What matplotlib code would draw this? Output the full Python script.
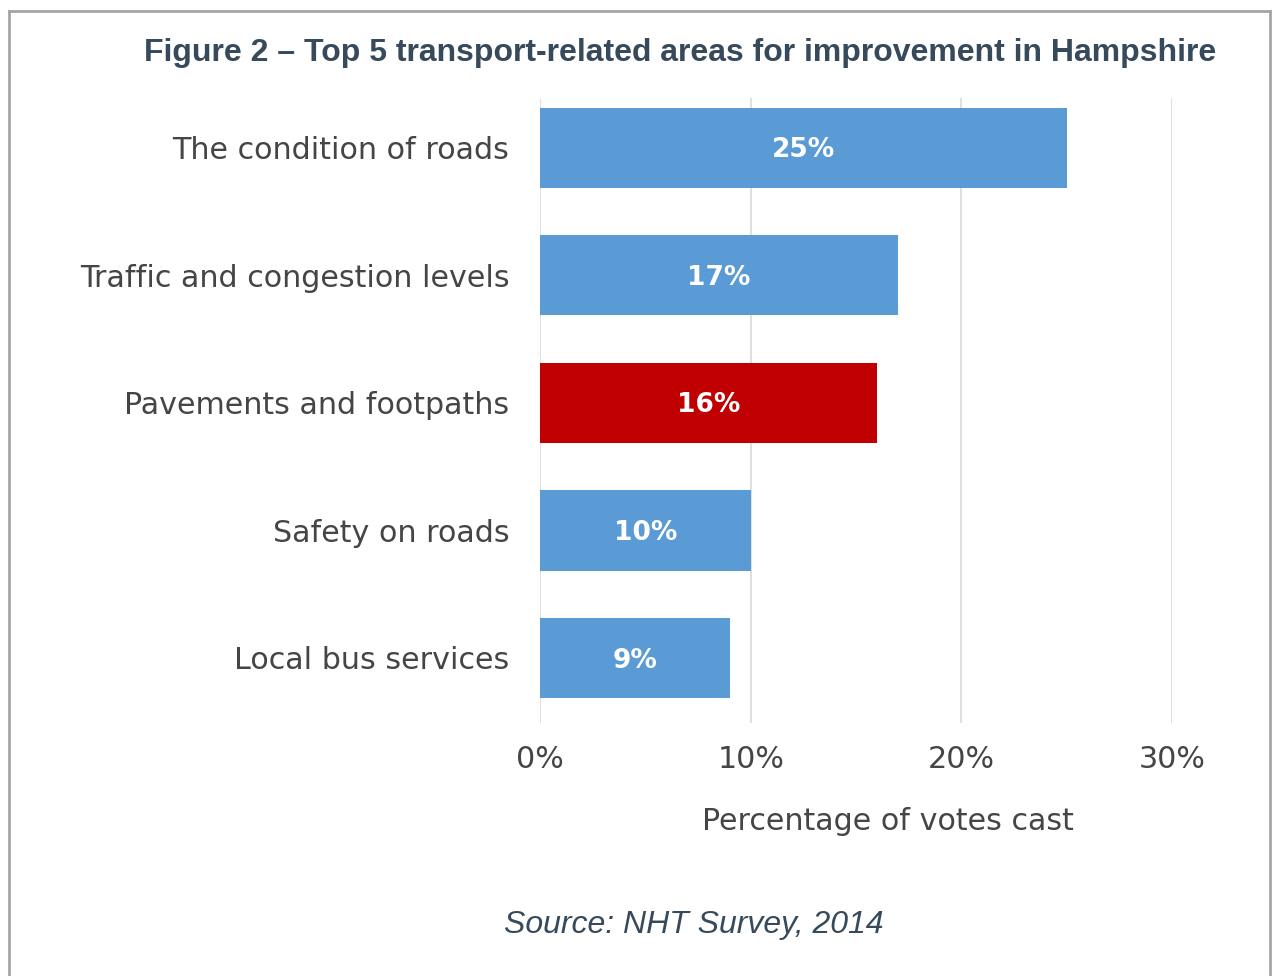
import matplotlib
matplotlib.use("Agg")
import matplotlib.pyplot as plt
from matplotlib.lines import Line2D
from matplotlib.ticker import FuncFormatter

categories = [
    "The condition of roads",
    "Traffic and congestion levels",
    "Pavements and footpaths",
    "Safety on roads",
    "Local bus services",
]
values = [25, 17, 16, 10, 9]
highlight = "Pavements and footpaths"
xticks = [0, 10, 20, 30]

title = "Figure 2 \u2013 Top 5 transport-related areas for improvement in Hampshire"
xlabel = "Percentage of votes cast"
source = "Source: NHT Survey, 2014"

BLUE = "#5B9BD5"
RED = "#C00000"
SLATE = "#374A5C"
TEXT = "#454545"

plt.rcParams["font.family"] = ["DejaVu Sans"]
HEAD = ["Liberation Sans", "DejaVu Sans"]

W, H = 1273, 976
fig = plt.figure(figsize=(W / 100, H / 100), dpi=100)

ax = fig.add_axes([540 / W, 1 - 723 / H, (1172 - 540) / W, (723 - 98) / H])

colors = [RED if c == highlight else BLUE for c in categories]
ypos = list(range(len(categories)))
bars = ax.barh(ypos, values, height=0.63, color=colors, zorder=3)

for b, v in zip(bars, values):
    ax.text(b.get_width() / 2, b.get_y() + b.get_height() / 2 + 0.02, f"{v}%",
            ha="center", va="center", color="white", fontsize=19,
            fontweight="bold", zorder=4)

ax.set_xlim(0, 30)
ax.set_ylim(4.51, -0.39)
ax.set_xticks(xticks)
ax.xaxis.set_major_formatter(FuncFormatter(lambda x, p: f"{x:.0f}%"))
ax.set_yticks(ypos)
ax.set_yticklabels(categories)

ax.grid(axis="x", color="#D9D9D9", linewidth=1.2, zorder=0)
for s in ax.spines.values():
    s.set_visible(False)
ax.tick_params(axis="both", length=0, labelsize=21.7, labelcolor=TEXT)
ax.tick_params(axis="y", pad=22)
ax.tick_params(axis="x", pad=16)

fig.text(680 / W, 1 - 53 / H, title, ha="center", va="center",
         fontsize=23, fontweight="bold", color=SLATE, family=HEAD)
fig.text(888 / W, 1 - 821 / H, xlabel, ha="center", va="center",
         fontsize=21.7, color=TEXT)
fig.text(694 / W, 1 - 925 / H, source, ha="center", va="center",
         fontsize=23, style="italic", color=SLATE, family=HEAD)

# Frame around the figure (bottom edge runs off the page)
bc = "#A6A6A6"
x0, x1 = 9 / W, 1270 / W
yt = 1 - 11 / H
fig.add_artist(Line2D([x0, x0], [0, yt], color=bc, linewidth=2, transform=fig.transFigure))
fig.add_artist(Line2D([x1, x1], [0, yt], color=bc, linewidth=2, transform=fig.transFigure))
fig.add_artist(Line2D([x0, x1], [yt, yt], color=bc, linewidth=2, transform=fig.transFigure))

fig.savefig("out.png", dpi=100, facecolor="white")
